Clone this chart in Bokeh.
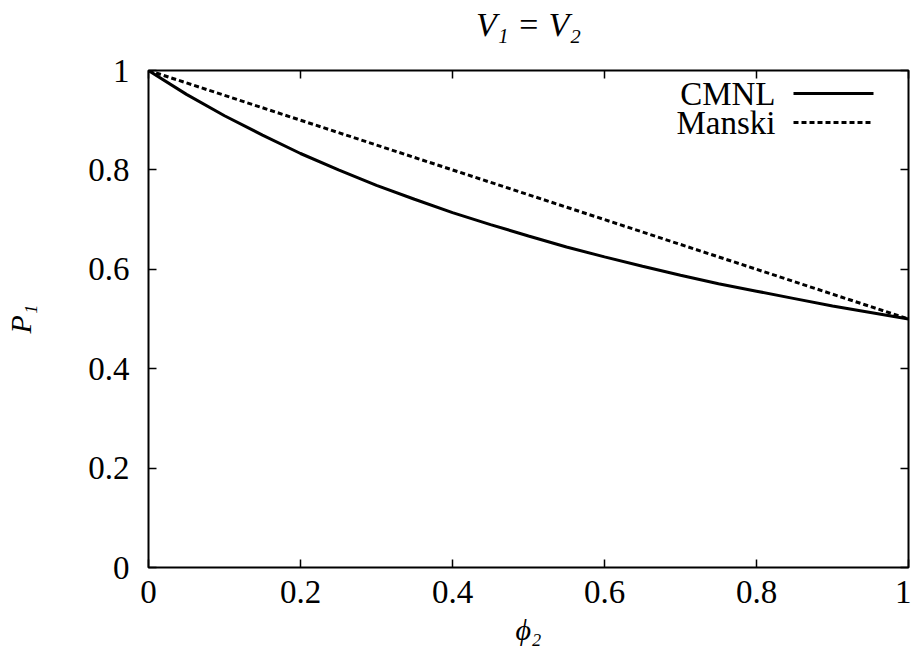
from bokeh.plotting import figure
from bokeh.models import Range1d, FixedTicker, LinearAxis
from bokeh.embed import file_html
from bokeh.resources import INLINE
from bokeh.core.properties import value

# ---- data ----
phi = [0.00, 0.05, 0.10, 0.15, 0.20, 0.25, 0.30, 0.35, 0.40, 0.45, 0.50,
       0.55, 0.60, 0.65, 0.70, 0.75, 0.80, 0.85, 0.90, 0.95, 1.00]
cmnl = [1.000, 0.952, 0.909, 0.870, 0.833, 0.800, 0.769, 0.741, 0.714, 0.690, 0.667,
        0.645, 0.625, 0.606, 0.588, 0.571, 0.556, 0.541, 0.526, 0.513, 0.500]
manski_phi = [0.0, 0.2, 0.4, 0.6, 0.8, 1.0]
manski = [1.0, 0.9, 0.8, 0.7, 0.6, 0.5]

x_ticks = [0, 0.2, 0.4, 0.6, 0.8, 1.0]
x_tick_labels = ["0", "0.2", "0.4", "0.6", "0.8", "1"]
y_ticks = [0, 0.2, 0.4, 0.6, 0.8, 1.0]
y_tick_labels = ["0", "0.2", "0.4", "0.6", "0.8", "1"]
series_names = ["CMNL", "Manski"]
title_text = "V\u2081 = V\u2082"
x_label = "\u03d5\u2082"
y_label = "P\u2081"

SERIF = "Liberation Serif"

# frame geometry in page pixels
FL, FR, FT, FB = 148, 908, 70, 567
def dx(px):
    return (px - FL) / (FR - FL)
def dy(py):
    return (FB - py) / (FB - FT)

p = figure(frame_width=FR - FL, frame_height=FB - FT,
           x_range=Range1d(0, 1), y_range=Range1d(0, 1),
           output_backend="svg", toolbar_location=None,
           min_border_left=FL, min_border_right=3,
           min_border_top=FT, min_border_bottom=86,
           background_fill_color="white", border_fill_color="white")

p.grid.visible = False
p.outline_line_color = "black"
p.outline_line_width = 2

def style_axis(ax, ticks, labels, show_labels=True):
    ax.ticker = FixedTicker(ticks=ticks)
    ax.axis_line_color = None
    ax.major_tick_in = 8
    ax.major_tick_out = 0
    ax.major_tick_line_color = "black"
    ax.major_tick_line_width = 1.5
    ax.minor_tick_line_color = None
    ax.major_label_text_font = SERIF
    ax.major_label_text_color = "black"
    ax.axis_label_text_font = SERIF
    ax.axis_label_text_font_style = "italic"
    ax.axis_label_text_color = "black"
    if show_labels:
        ax.major_label_overrides = {t: l for t, l in zip(ticks, labels)}
        ax.major_label_text_font_size = "33px"
    else:
        ax.major_label_overrides = {t: "" for t in ticks}
        ax.major_label_text_font_size = "1px"
        ax.major_label_standoff = 0

xa = p.xaxis[0]
ya = p.yaxis[0]
style_axis(xa, x_ticks, x_tick_labels)
style_axis(ya, y_ticks, y_tick_labels)
xa.major_label_standoff = 13
ya.major_label_standoff = 19

xa.axis_label = x_label
xa.axis_label_text_font_size = "30px"
xa.axis_label_standoff = 7
ya.axis_label = y_label
ya.axis_label_text_font_size = "30px"
ya.axis_label_standoff = 48

top = LinearAxis()
right = LinearAxis()
style_axis(top, x_ticks, x_tick_labels, show_labels=False)
style_axis(right, y_ticks, y_tick_labels, show_labels=False)
top.axis_label = title_text
top.axis_label_text_font_size = "34px"
top.axis_label_standoff = 28
p.add_layout(top, "above")
p.add_layout(right, "right")

# curves
p.line(phi, cmnl, line_color="black", line_width=3)
p.line(manski_phi, manski, line_color="black", line_width=3, line_dash="5 3")

# gnuplot-style legend (text right-aligned, sample line to the right)
lx_text = dx(775)
lx0, lx1 = dx(793), dx(873)
ly = [dy(93), dy(122)]
p.text(x=[lx_text, lx_text], y=ly, text=series_names,
       text_font=value(SERIF), text_font_size="33px", text_color="black",
       text_align="right", text_baseline="middle")
p.segment(x0=[lx0], y0=[ly[0]], x1=[lx1], y1=[ly[0]], line_color="black", line_width=3)
p.segment(x0=[lx0], y0=[ly[1]], x1=[lx1], y1=[ly[1]], line_color="black", line_width=3,
          line_dash="5 3")

open("out.html", "w").write(file_html(p, INLINE))
